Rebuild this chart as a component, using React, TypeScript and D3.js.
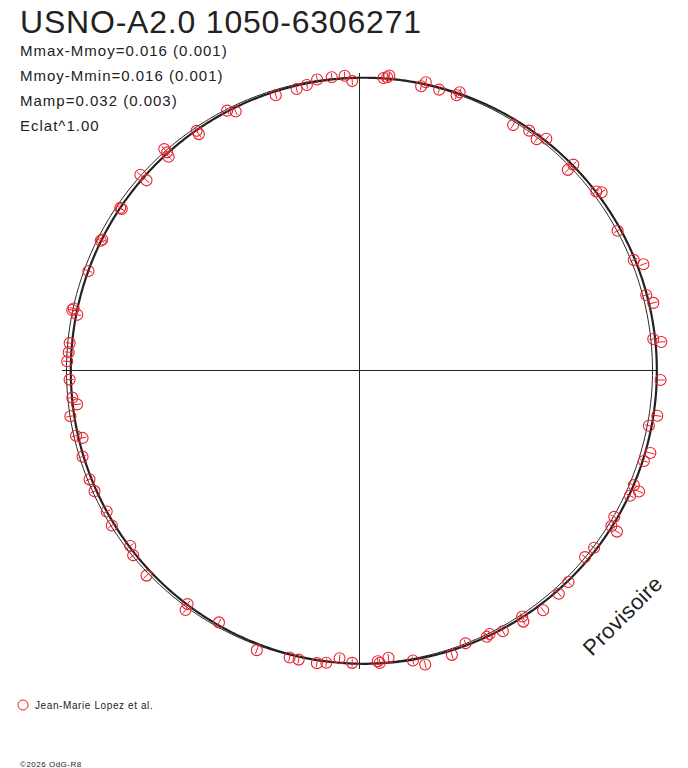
import React from 'react';
import * as d3 from 'd3';

// star + stats
const starName = 'USNO-A2.0 1050-6306271';
const statLines = ['Mmax-Mmoy=0.016 (0.001)', 'Mmoy-Mmin=0.016 (0.001)', 'Mamp=0.032 (0.003)', 'Eclat^1.00'];
const observer = 'Jean-Marie Lopez et al.';

// phase (0..1, clockwise from top) and magnitude offset from mean
const phases = [
  0.996, 0.992, 0.985, 0.977, 0.971, 0.965, 0.953, 0.929, 0.925, 0.905,
  0.905, 0.884, 0.885, 0.885, 0.866, 0.866, 0.845, 0.845, 0.825, 0.824,
  0.806, 0.784, 0.783, 0.781, 0.765, 0.760, 0.755, 0.745, 0.735, 0.731,
  0.725, 0.714, 0.712, 0.702, 0.689, 0.682, 0.669, 0.661, 0.646, 0.641,
  0.628, 0.601, 0.600, 0.581, 0.556, 0.538, 0.533, 0.523, 0.518, 0.511,
  0.504, 0.490, 0.489, 0.484, 0.471, 0.465, 0.450, 0.441, 0.429, 0.427,
  0.420, 0.407, 0.408, 0.396, 0.384, 0.376, 0.360, 0.353, 0.338, 0.339,
  0.333, 0.319, 0.315, 0.313, 0.299, 0.294, 0.280, 0.274, 0.255, 0.235,
  0.233, 0.214, 0.209, 0.193, 0.189, 0.171, 0.149, 0.147, 0.128, 0.128,
  0.108, 0.104, 0.098, 0.089, 0.055, 0.054, 0.044, 0.036, 0.034, 0.016,
  0.015, 0.013,
];
const dMags = [
  0.013, -0.008, -0.006, -0.004, 0.010, 0.017, 0.020, 0.022, 0.005, 0.027,
  0.012, 0.024, 0.008, -0.008, 0.028, -0.003, 0.021, 0.014, 0.016, 0.013,
  0.016, 0.002, -0.002, 0.020, 0.007, 0.006, 0.002, 0.011, 0.017, 0.032,
  0.001, 0.008, 0.030, 0.011, 0.007, 0.007, 0.013, 0.003, 0.016, 0.003,
  -0.010, 0.011, -0.011, 0.017, -0.018, -0.009, -0.009, -0.010, -0.004, 0.017,
  0.002, 0.006, -0.001, 0.016, -0.007, -0.030, -0.022, 0.001, -0.008, -0.003,
  -0.017, -0.007, -0.025, -0.033, -0.023, -0.016, 0.001, -0.004, -0.011, -0.039,
  -0.003, -0.019, -0.042, -0.016, -0.020, -0.034, -0.006, -0.030, -0.030, -0.037,
  -0.009, -0.031, -0.013, -0.037, -0.010, -0.002, -0.028, -0.014, -0.014, 0.014,
  -0.017, 0.006, -0.003, 0.013, -0.010, 0.004, 0.004, -0.010, 0.008, -0.013,
  -0.006, -0.002,
];
const errMag = 0.015;

// fitted Fourier coefficients: [cos1, sin1]
const fitCos = [0.001];
const fitSin = [-0.016];

const W = 688;
const H = 768;
const cx = 359.5;
const cy = 370.5;
const R0 = 293;
const font = '"Liberation Sans", Arial, sans-serif';
const red = '#e8212b';
const ink = '#222';

const angle = d3.scaleLinear().domain([0, 1]).range([0, 2 * Math.PI]);
const radius = d3.scaleLinear().domain([0, 1]).range([0, R0]);
const flux = (m: number) => Math.pow(10, -0.4 * m);

const fit = (p: number) =>
  fitCos.reduce((s, c, i) => s + c * Math.cos(2 * Math.PI * (i + 1) * p), 0) +
  fitSin.reduce((s, c, i) => s + c * Math.sin(2 * Math.PI * (i + 1) * p), 0);

const App: React.FC = () => {
  const fitLine = d3
    .lineRadial<number>()
    .angle((p) => angle(p))
    .radius((p) => radius(flux(fit(p))))
    .curve(d3.curveLinearClosed);

  const circleLine = d3
    .lineRadial<number>()
    .angle((p) => angle(p))
    .radius(() => radius(1))
    .curve(d3.curveLinearClosed);

  const samples = d3.range(0, 1, 1 / 720);
  const axisLen = radius(1) + 5;

  return (
    <svg width={W} height={H} style={{ position: 'absolute', left: 0, top: 0, background: '#fff' }}>
      <text x={20} y={33} fontFamily={font} fontSize={32} letterSpacing={0.8} fill={ink}>
        {starName}
      </text>
      {statLines.map((s, i) => (
        <text key={s} x={20} y={56 + i * 25} fontFamily={font} fontSize={15} letterSpacing={1} fill={ink}>
          {s}
        </text>
      ))}

      <g transform={`translate(${cx},${cy})`}>
        <line x1={-axisLen} x2={axisLen} y1={0} y2={0} stroke={ink} strokeWidth={1} shapeRendering="crispEdges" />
        <line x1={0} x2={0} y1={-axisLen} y2={axisLen} stroke={ink} strokeWidth={1} shapeRendering="crispEdges" />
        <path d={circleLine(samples) ?? ''} fill="none" stroke={ink} strokeWidth={1} />
        <path d={fitLine(samples) ?? ''} fill="none" stroke={ink} strokeWidth={2.2} />
        {phases.map((p, i) => {
          const a = angle(p);
          const [x, y] = d3.pointRadial(a, radius(flux(dMags[i])));
          const [x1, y1] = d3.pointRadial(a, radius(flux(dMags[i] + errMag)));
          const [x2, y2] = d3.pointRadial(a, radius(flux(dMags[i] - errMag)));
          return (
            <g key={i}>
              <line x1={x1} y1={y1} x2={x2} y2={y2} stroke={red} strokeWidth={1} />
              <circle cx={x} cy={y} r={5.5} fill="none" stroke={red} strokeWidth={1.1} />
            </g>
          );
        })}
      </g>

      <text
        transform="translate(592,657) rotate(-45)"
        fontFamily={font}
        fontSize={22}
        letterSpacing={0.4}
        fill={ink}
      >
        Provisoire
      </text>

      <circle cx={23} cy={705} r={5} fill="none" stroke={red} strokeWidth={1} />
      <text x={35} y={709} fontFamily={font} fontSize={10} letterSpacing={0.6} fill={ink}>
        {observer}
      </text>
      <text x={20} y={767} fontFamily={font} fontSize={8} letterSpacing={0.5} fill={ink}>
        ©2026 OdG-R8
      </text>
    </svg>
  );
};

export default App;
